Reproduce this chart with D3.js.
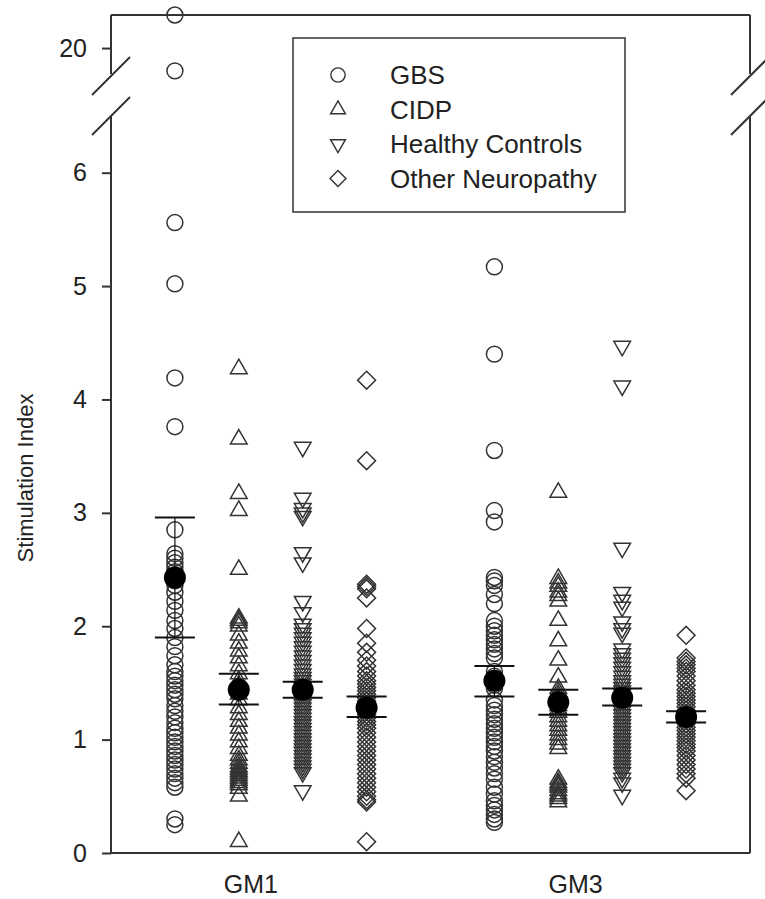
<!DOCTYPE html>
<html><head><meta charset="utf-8">
<script src="https://cdn.jsdelivr.net/npm/d3@7"></script>
<style>html,body{margin:0;padding:0;background:#fff;}svg{display:block;}</style>
</head><body>
<svg id="c" width="765" height="899"></svg>
<script>
// ---- data ----
const antigens = ["GM1", "GM3"];
const groups = ["GBS", "CIDP", "Healthy Controls", "Other Neuropathy"];
const groupPos = [1, 2, 3, 4, 6, 7, 8, 9]; // GM1 x4, GM3 x4
const gm1_gbs = [22.9, 18.0, 5.56, 5.02, 4.19, 3.76, 2.85, 2.64, 2.6, 2.56, 2.52, 2.48, 2.44, 2.4, 2.36, 2.3, 2.22, 2.14, 2.05, 1.98, 1.9, 1.82, 1.74, 1.66, 1.6, 1.56, 1.52, 1.48, 1.44, 1.4, 1.36, 1.3, 1.25, 1.2, 1.15, 1.1, 1.06, 1.02, 0.98, 0.94, 0.9, 0.86, 0.82, 0.78, 0.74, 0.7, 0.66, 0.62, 0.58, 0.3, 0.25];
const gm1_cidp = [4.27, 3.65, 3.17, 3.02, 2.5, 2.07, 2.05, 2.03, 2.0, 1.92, 1.85, 1.78, 1.72, 1.65, 1.58, 1.52, 1.48, 1.44, 1.4, 1.35, 1.28, 1.22, 1.16, 1.1, 1.04, 0.98, 0.92, 0.86, 0.82, 0.79, 0.76, 0.74, 0.72, 0.7, 0.68, 0.66, 0.64, 0.62, 0.6, 0.57, 0.5, 0.1];
const gm1_hc = [3.58, 3.13, 3.04, 3.0, 2.97, 2.65, 2.56, 2.22, 2.12, 2.02, 1.98, 1.94, 1.9, 1.86, 1.82, 1.78, 1.74, 1.7, 1.66, 1.62, 1.58, 1.55, 1.52, 1.49, 1.46, 1.43, 1.4, 1.37, 1.34, 1.31, 1.28, 1.25, 1.22, 1.19, 1.16, 1.13, 1.1, 1.07, 1.04, 1.01, 0.98, 0.95, 0.92, 0.89, 0.86, 0.83, 0.8, 0.77, 0.74, 0.71, 0.55];
const gm1_on = [4.17, 3.46, 2.37, 2.35, 2.33, 2.25, 1.98, 1.85, 1.77, 1.7, 1.65, 1.6, 1.56, 1.52, 1.49, 1.46, 1.43, 1.4, 1.37, 1.34, 1.31, 1.28, 1.25, 1.22, 1.19, 1.16, 1.13, 1.1, 1.06, 1.02, 0.98, 0.94, 0.9, 0.86, 0.82, 0.78, 0.74, 0.7, 0.66, 0.62, 0.58, 0.54, 0.5, 0.47, 0.45, 0.1];
const gm3_gbs = [5.17, 4.4, 3.55, 3.02, 2.92, 2.43, 2.4, 2.36, 2.28, 2.2, 2.05, 2.0, 1.96, 1.92, 1.88, 1.84, 1.8, 1.76, 1.72, 1.6, 1.56, 1.52, 1.48, 1.45, 1.35, 1.3, 1.26, 1.22, 1.18, 1.14, 1.1, 1.06, 1.02, 0.98, 0.94, 0.9, 0.85, 0.8, 0.75, 0.7, 0.65, 0.58, 0.52, 0.46, 0.42, 0.38, 0.34, 0.3, 0.27];
const gm3_cidp = [3.18, 2.42, 2.38, 2.35, 2.3, 2.27, 2.22, 2.05, 1.87, 1.7, 1.55, 1.45, 1.42, 1.39, 1.36, 1.33, 1.3, 1.27, 1.24, 1.2, 1.16, 1.12, 1.08, 1.04, 1.0, 0.96, 0.92, 0.65, 0.62, 0.6, 0.58, 0.55, 0.52, 0.5, 0.48, 0.45];
const gm3_hc = [4.47, 4.12, 2.69, 2.3, 2.23, 2.17, 2.04, 1.98, 1.94, 1.8, 1.76, 1.72, 1.68, 1.64, 1.6, 1.56, 1.52, 1.49, 1.46, 1.43, 1.4, 1.37, 1.34, 1.31, 1.28, 1.25, 1.22, 1.19, 1.16, 1.13, 1.1, 1.07, 1.04, 1.01, 0.98, 0.95, 0.92, 0.89, 0.86, 0.83, 0.8, 0.77, 0.74, 0.71, 0.66, 0.62, 0.51];
const gm3_on = [1.92, 1.72, 1.69, 1.66, 1.63, 1.6, 1.56, 1.52, 1.48, 1.44, 1.41, 1.38, 1.35, 1.32, 1.29, 1.26, 1.23, 1.2, 1.17, 1.14, 1.11, 1.08, 1.05, 1.02, 0.99, 0.96, 0.93, 0.9, 0.86, 0.82, 0.78, 0.74, 0.7, 0.66, 0.55];
const means = [2.43, 1.44, 1.44, 1.28, 1.52, 1.33, 1.37, 1.20];
const barHi = [2.96, 1.58, 1.51, 1.38, 1.65, 1.44, 1.45, 1.25];
const barLo = [1.90, 1.31, 1.37, 1.20, 1.38, 1.22, 1.30, 1.15];
const lowerTicks = [0, 1, 2, 3, 4, 5, 6];
const upperTicks = [20];
const series = [gm1_gbs, gm1_cidp, gm1_hc, gm1_on, gm3_gbs, gm3_cidp, gm3_hc, gm3_on];

// ---- layout ----
const L = 111, R = 750, T = 15, B = 853;
const gapTop = 74, gapBot = 116;
const ink = "#333";
const FONT = "Liberation Sans, Arial, Helvetica, sans-serif";
const svg = d3.select("#c");
const x = d3.scaleLinear().domain([0, 10]).range([L, R]);
const yLow = d3.scaleLinear().domain([0, 6.5]).range([B, gapBot]);
const yUp = d3.scaleLinear().domain([17.9, 22.9]).range([gapTop - 2, T]);
const y = v => v > 10 ? yUp(v) : yLow(v);

const shapes = [
  {type: d3.symbolCircle, size: 200, rot: 0},
  {type: d3.symbolTriangle, size: 120, rot: 0},
  {type: d3.symbolTriangle, size: 120, rot: 180},
  {type: d3.symbolSquare, size: 160, rot: 45}
];

// frame
const frame = svg.append("g").attr("stroke", ink).attr("stroke-width", 2).attr("fill", "none");
frame.append("line").attr("x1", L).attr("x2", R).attr("y1", T).attr("y2", T);
frame.append("line").attr("x1", L).attr("x2", R).attr("y1", B).attr("y2", B);
[L, R].forEach(px => {
  frame.append("line").attr("x1", px).attr("x2", px).attr("y1", T).attr("y2", gapTop);
  frame.append("line").attr("x1", px).attr("x2", px).attr("y1", gapBot).attr("y2", B);
  [gapTop + 2, gapBot].forEach(cy => {
    frame.append("line").attr("x1", px - 19).attr("y1", cy + 19).attr("x2", px + 19).attr("y2", cy - 19);
  });
});

// axes
const axLow = d3.axisLeft(yLow).tickValues(lowerTicks).tickSize(9).tickPadding(15).tickFormat(d3.format("d"));
const axUp = d3.axisLeft(yUp).tickValues(upperTicks).tickSize(9).tickPadding(15).tickFormat(d3.format("d"));
[axLow, axUp].forEach(ax => {
  const g = svg.append("g").attr("transform", `translate(${L},0)`).call(ax);
  g.select(".domain").remove();
  g.selectAll("line").attr("stroke", ink).attr("stroke-width", 2);
  g.selectAll("text").attr("font-family", FONT).attr("font-size", 25).attr("fill", "#222");
});

svg.append("text").attr("transform", `translate(33,478) rotate(-90)`)
  .attr("text-anchor", "middle").attr("font-family", FONT)
  .attr("font-size", 22).attr("fill", "#222").text("Stimulation Index");

antigens.forEach((a, i) => {
  svg.append("text").attr("x", i === 0 ? x(2.19) : x(7.27)).attr("y", 893)
    .attr("text-anchor", "middle").attr("font-family", FONT)
    .attr("font-size", 25).attr("fill", "#222").text(a);
});

// points
series.forEach((vals, k) => {
  const sh = shapes[k % 4];
  const sym = d3.symbol().type(sh.type).size(sh.size);
  svg.append("g").selectAll("path").data(vals).join("path")
    .attr("d", sym)
    .attr("transform", d => `translate(${x(groupPos[k])},${y(d)}) rotate(${sh.rot})`)
    .attr("fill", "none").attr("stroke", ink).attr("stroke-width", 1.5);
});

// mean and bars
groupPos.forEach((p, k) => {
  const cx = x(p);
  const g = svg.append("g").attr("stroke", "#111").attr("stroke-width", 2);
  g.append("line").attr("x1", cx).attr("x2", cx).attr("y1", yLow(barHi[k])).attr("y2", yLow(barLo[k])).attr("stroke-width", 1.2);
  [barHi[k], barLo[k]].forEach(v => g.append("line").attr("x1", cx - 20).attr("x2", cx + 20).attr("y1", yLow(v)).attr("y2", yLow(v)));
  svg.append("circle").attr("cx", cx).attr("cy", yLow(means[k])).attr("r", 11).attr("fill", "#000");
});

// legend
const lg = svg.append("g");
lg.append("rect").attr("x", 293).attr("y", 38).attr("width", 332).attr("height", 174)
  .attr("fill", "#fff").attr("stroke", ink).attr("stroke-width", 1.5);
groups.forEach((gname, i) => {
  const cy = 75 + i * 34.5;
  const sh = shapes[i];
  lg.append("path").attr("d", d3.symbol().type(sh.type).size(sh.size * 0.8)())
    .attr("transform", `translate(338,${cy}) rotate(${sh.rot})`)
    .attr("fill", "none").attr("stroke", ink).attr("stroke-width", 1.4);
  lg.append("text").attr("x", 390).attr("y", cy + 9).attr("font-family", FONT)
    .attr("font-size", 26).attr("fill", "#222").text(gname);
});
</script>
</body></html>
